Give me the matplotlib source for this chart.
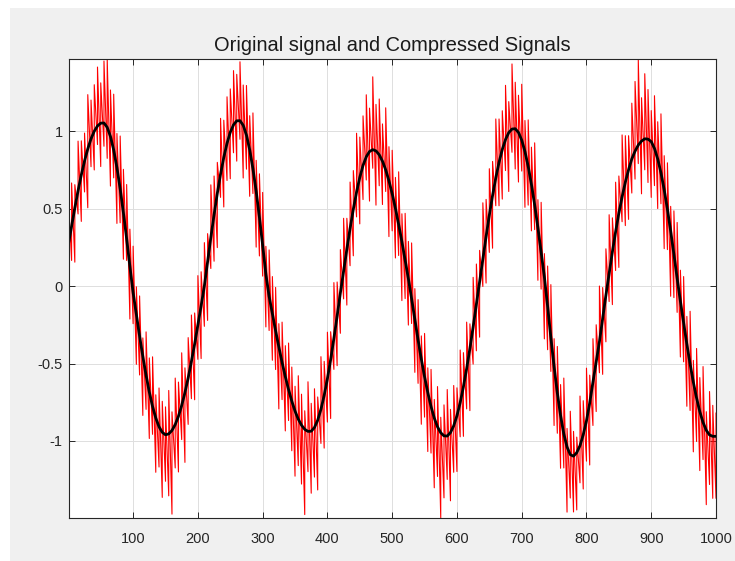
import matplotlib.pyplot as plt
import numpy as np
from matplotlib.patches import Rectangle

plt.rcParams["font.family"] = ["Liberation Sans", "DejaVu Sans"]
plt.rcParams["axes.unicode_minus"] = False

# sample positions (every 5th sample, plus the first one)
sample_x = [1] + list(range(5, 1001, 5))

# compressed (smooth) signal
compressed = [
    0.29, 0.385, 0.504, 0.615, 0.717, 0.807, 0.885, 0.950, 0.999, 1.033,
    1.051, 1.052, 1.024, 0.965, 0.878, 0.764, 0.628, 0.473, 0.305, 0.127,
    -0.043, -0.185, -0.324, -0.455, -0.576, -0.684, -0.777, -0.852, -0.908, -0.944,
    -0.960, -0.954, -0.932, -0.894, -0.840, -0.771, -0.688, -0.593, -0.487, -0.374,
    -0.253, -0.128, 0.0, 0.158, 0.313, 0.460, 0.598, 0.722, 0.830, 0.921,
    0.992, 1.040, 1.066, 1.067, 1.037, 0.974, 0.879, 0.757, 0.611, 0.444,
    0.264, 0.076, -0.067, -0.179, -0.289, -0.393, -0.493, -0.585, -0.668, -0.743,
    -0.807, -0.859, -0.898, -0.925, -0.938, -0.937, -0.913, -0.866, -0.796, -0.706,
    -0.598, -0.475, -0.338, -0.194, -0.045, 0.097, 0.237, 0.371, 0.495, 0.606,
    0.701, 0.778, 0.834, 0.868, 0.880, 0.872, 0.847, 0.806, 0.750, 0.679,
    0.596, 0.501, 0.397, 0.286, 0.169, 0.048, -0.082, -0.217, -0.348, -0.472,
    -0.586, -0.688, -0.778, -0.852, -0.909, -0.947, -0.967, -0.968, -0.946, -0.902,
    -0.837, -0.753, -0.650, -0.533, -0.404, -0.264, -0.118, 0.030, 0.177, 0.319,
    0.457, 0.584, 0.698, 0.798, 0.881, 0.945, 0.990, 1.013, 1.015, 0.991,
    0.942, 0.868, 0.772, 0.656, 0.524, 0.377, 0.220, 0.059, -0.131, -0.331,
    -0.520, -0.690, -0.836, -0.954, -1.039, -1.088, -1.098, -1.075, -1.030, -0.960,
    -0.870, -0.755, -0.620, -0.490, -0.360, -0.210, -0.060, 0.080, 0.220, 0.350,
    0.470, 0.575, 0.670, 0.750, 0.820, 0.870, 0.910, 0.935, 0.950, 0.948,
    0.932, 0.888, 0.820, 0.731, 0.621, 0.495, 0.354, 0.205, 0.050, -0.098,
    -0.239, -0.376, -0.503, -0.620, -0.723, -0.811, -0.880, -0.931, -0.961, -0.970,
    -0.970,
]

# the noisy original signal is dense, so keep its min / max in each
# 5-sample bin, as offsets from the compressed curve
original_high = [
    0.20, 0.28, 0.15, 0.32, 0.22, 0.18, 0.35, 0.25, 0.30, 0.38,
    0.26, 0.40, 0.44, 0.30, 0.36, 0.22, 0.34, 0.28, 0.35, 0.24,
    0.30, 0.18, 0.26, 0.12, 0.28, 0.22, 0.32, 0.15, 0.25, 0.20,
    0.18, 0.28, 0.12, 0.30, 0.22, 0.34, 0.16, 0.26, 0.30, 0.20,
    0.32, 0.22, 0.28, 0.18, 0.34, 0.25, 0.20, 0.36, 0.24, 0.30,
    0.28, 0.35, 0.30, 0.38, 0.26, 0.32, 0.22, 0.36, 0.20, 0.28,
    0.34, 0.18, 0.30, 0.24, 0.28, 0.15, 0.26, 0.20, 0.30, 0.22,
    0.16, 0.28, 0.20, 0.12, 0.32, 0.18, 0.25, 0.15, 0.34, 0.22,
    0.30, 0.18, 0.36, 0.22, 0.28, 0.34, 0.20, 0.30, 0.25, 0.38,
    0.26, 0.32, 0.40, 0.28, 0.47, 0.30, 0.36, 0.24, 0.40, 0.22,
    0.28, 0.20, 0.34, 0.18, 0.30, 0.24, 0.36, 0.20, 0.26, 0.15,
    0.28, 0.16, 0.24, 0.12, 0.26, 0.10, 0.20, 0.30, 0.15, 0.26,
    0.18, 0.34, 0.22, 0.30, 0.16, 0.32, 0.26, 0.20, 0.36, 0.24,
    0.30, 0.22, 0.38, 0.28, 0.25, 0.35, 0.20, 0.42, 0.30, 0.24,
    0.36, 0.20, 0.30, 0.24, 0.40, 0.18, 0.32, 0.15, 0.26, 0.34,
    0.18, 0.30, 0.20, 0.36, 0.12, 0.28, 0.16, 0.10, 0.32, 0.22,
    0.34, 0.18, 0.28, 0.24, 0.36, 0.20, 0.30, 0.38, 0.22, 0.32,
    0.24, 0.40, 0.30, 0.22, 0.36, 0.45, 0.55, 0.28, 0.42, 0.32,
    0.20, 0.34, 0.24, 0.38, 0.22, 0.30, 0.16, 0.28, 0.36, 0.20,
    0.30, 0.18, 0.34, 0.14, 0.32, 0.22, 0.36, 0.12, 0.28, 0.20,
    0.15,
]
original_low = [
    -0.45, -0.22, -0.35, -0.15, -0.30, -0.20, -0.38, -0.18, -0.25, -0.12,
    -0.28, -0.15, -0.20, -0.32, -0.18, -0.36, -0.22, -0.30, -0.14, -0.34,
    -0.20, -0.32, -0.25, -0.38, -0.22, -0.30, -0.18, -0.35, -0.26, -0.42,
    -0.30, -0.40, -0.54, -0.28, -0.36, -0.22, -0.45, -0.30, -0.24, -0.36,
    -0.22, -0.34, -0.26, -0.38, -0.20, -0.30, -0.35, -0.15, -0.32, -0.24,
    -0.30, -0.18, -0.26, -0.12, -0.34, -0.22, -0.30, -0.16, -0.36, -0.25,
    -0.20, -0.34, -0.22, -0.30, -0.25, -0.40, -0.24, -0.35, -0.20, -0.32,
    -0.42, -0.30, -0.38, -0.55, -0.26, -0.40, -0.32, -0.45, -0.22, -0.34,
    -0.28, -0.38, -0.20, -0.32, -0.26, -0.18, -0.36, -0.24, -0.30, -0.16,
    -0.30, -0.22, -0.15, -0.32, -0.12, -0.35, -0.20, -0.28, -0.14, -0.36,
    -0.24, -0.32, -0.20, -0.38, -0.25, -0.30, -0.16, -0.34, -0.28, -0.42,
    -0.26, -0.38, -0.30, -0.45, -0.32, -0.55, -0.40, -0.28, -0.44, -0.30,
    -0.36, -0.22, -0.32, -0.26, -0.40, -0.24, -0.30, -0.36, -0.18, -0.30,
    -0.24, -0.34, -0.18, -0.28, -0.32, -0.20, -0.38, -0.15, -0.26, -0.32,
    -0.20, -0.36, -0.25, -0.30, -0.16, -0.34, -0.24, -0.40, -0.28, -0.22,
    -0.38, -0.26, -0.34, -0.22, -0.42, -0.28, -0.36, -0.37, -0.24, -0.35,
    -0.26, -0.40, -0.28, -0.32, -0.20, -0.36, -0.30, -0.18, -0.34, -0.25,
    -0.35, -0.16, -0.28, -0.32, -0.22, -0.18, -0.12, -0.34, -0.20, -0.28,
    -0.36, -0.24, -0.32, -0.20, -0.38, -0.26, -0.42, -0.28, -0.22, -0.36,
    -0.25, -0.40, -0.30, -0.45, -0.28, -0.38, -0.24, -0.48, -0.32, -0.40,
    -0.40,
]

x_ticks = [100, 200, 300, 400, 500, 600, 700, 800, 900, 1000]
y_ticks = [-1, -0.5, 0, 0.5, 1]

base = np.array(compressed)
lows = base + np.array(original_low)
highs = base + np.array(original_high)
# trace low -> high inside each bin so the red line sweeps the band
original_x = np.repeat(sample_x, 2)
original_y = np.column_stack((lows, highs)).ravel()

fig = plt.figure(figsize=(7.35, 5.61), dpi=100, facecolor="white")
# matlab style grey figure area
fig.patches.append(
    Rectangle((10 / 735, 0), 1, 553 / 561, transform=fig.transFigure,
              facecolor="#f0f0f0", edgecolor="none", zorder=-1)
)

ax = fig.add_axes([69 / 735, 1 - 518 / 561, 647 / 735, 459 / 561])
ax.plot(original_x, original_y, color="red", linewidth=0.8)
ax.plot(sample_x, compressed, color="black", linewidth=2)

ax.set_xlim(1, 1000)
ax.set_ylim(-1.497, 1.465)
ax.set_xticks(x_ticks)
ax.set_yticks(y_ticks)
ax.set_yticklabels(["%g" % v for v in y_ticks])

ax.set_axisbelow(True)
ax.grid(True, color="#dedede", linewidth=0.7)
ax.tick_params(direction="in", length=4, width=0.7, top=True, right=True,
               colors="#262626", labelsize=10.5)
ax.tick_params(axis="x", pad=10)
ax.tick_params(axis="y", pad=4.5)
for spine in ax.spines.values():
    spine.set_color("#262626")
    spine.set_linewidth(0.8)

ax.set_title("Original signal and Compressed Signals", fontsize=14.4,
             color="#1a1a1a", pad=5.5)

fig.savefig("out.png", dpi=100)
